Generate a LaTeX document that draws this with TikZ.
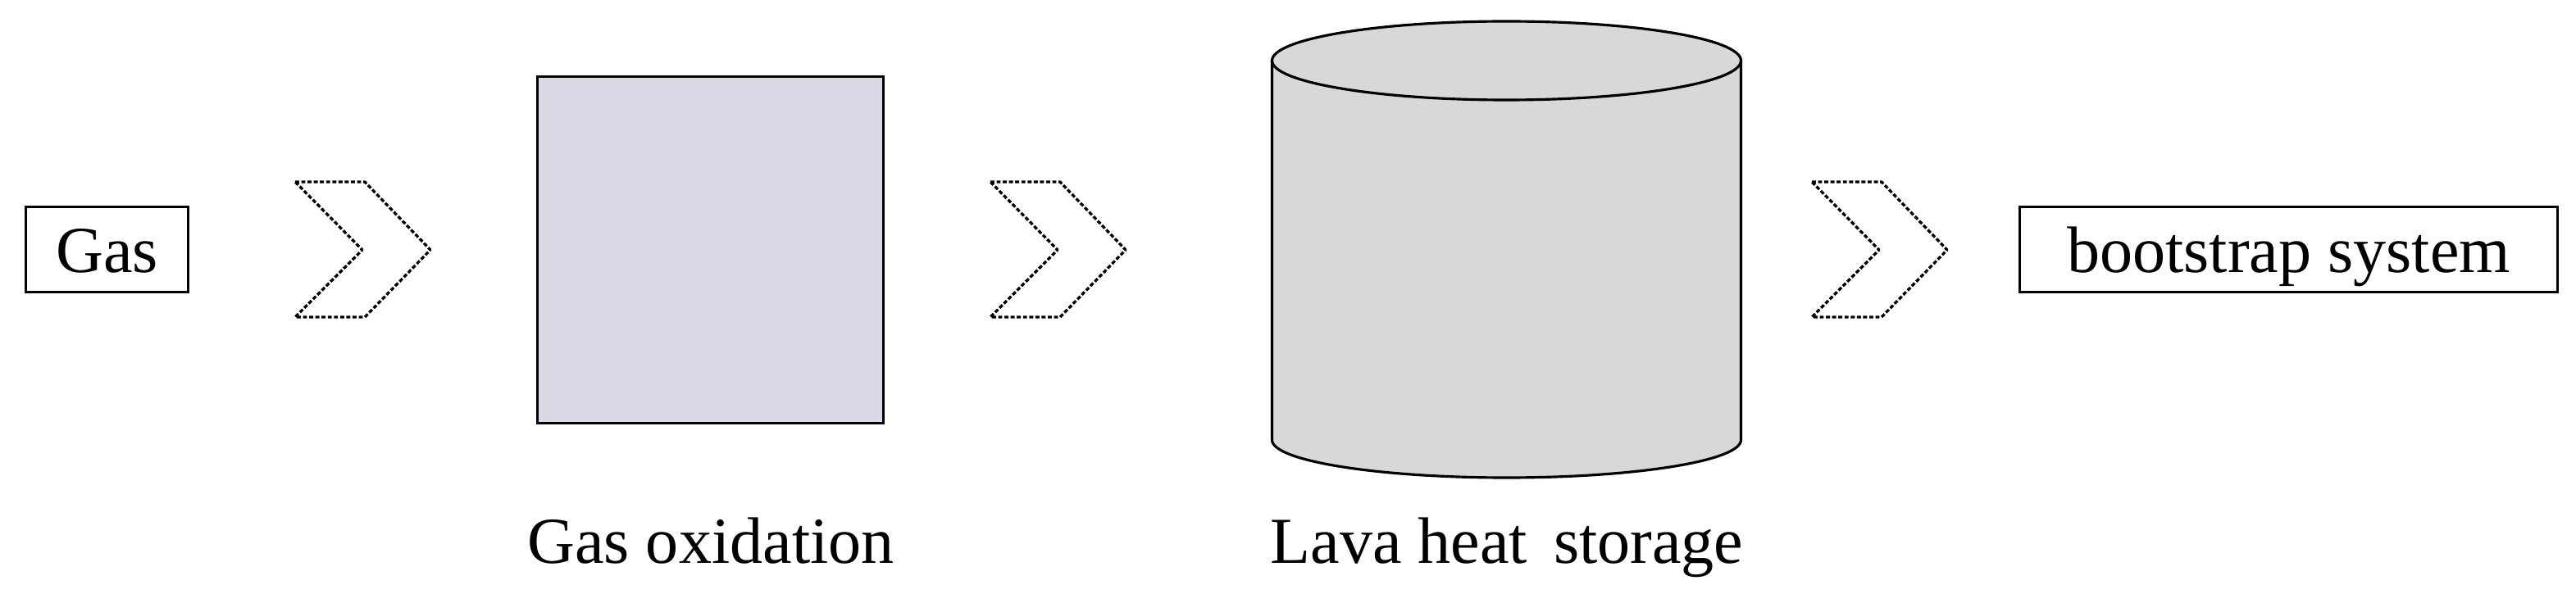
\documentclass[tikz,border=0pt]{standalone}
\usepackage{fontspec}
\setmainfont{Liberation Serif}
\definecolor{oxfill}{RGB}{220,215,229}
\definecolor{cylfill}{RGB}{216,216,216}
\tikzset{
  every node/.style={font=\fontsize{22.8}{27}\selectfont},
  labelbox/.style={draw, line width=0.9pt, inner sep=0pt, text height=0.57cm, text depth=0pt, minimum height=1.04cm},
  chev/.style={draw, line width=0.95pt, dash pattern=on 1.4pt off 0.75pt, line join=round},
  solidline/.style={draw, line width=0.9pt},
  caption/.style={anchor=base, inner sep=0pt}
}
\begin{document}
\begin{tikzpicture}
\useasboundingbox (0,0) rectangle (31.42,-7.25);
% input box
\node[labelbox, minimum width=1.98cm] (gas) at (1.305,-3.045) {Gas};
% chevrons
\foreach \L/\nm in {3.60/c1, 12.08/c2, 22.10/c3}{
  \draw[chev] (\L,-2.22) -- (\L+0.85,-2.22) -- (\L+1.65,-3.05) -- (\L+0.85,-3.87) -- (\L,-3.87) -- (\L+0.82,-3.05) -- cycle;
}
% gas oxidation box
\draw[solidline, fill=oxfill] (6.555,-0.935) rectangle (10.775,-5.165);
\node[caption] (oxlabel) at (8.67,-6.88) {Gas oxidation};
% cylinder
\path[solidline, fill=cylfill] (15.515,-0.74) -- (15.515,-5.37)
   arc[start angle=180, end angle=360, x radius=2.86cm, y radius=0.46cm]
   -- (21.235,-0.74)
   arc[start angle=0, end angle=180, x radius=2.86cm, y radius=0.48cm] -- cycle;
\draw[solidline] (15.515,-0.74) arc[start angle=180, end angle=360, x radius=2.86cm, y radius=0.48cm];
\node[caption] (lavalabel) at (18.38,-6.88) {Lava heat\hspace{0.15em} storage};
% output box
\node[labelbox, minimum width=6.56cm] (boot) at (27.915,-3.045) {bootstrap system};
\end{tikzpicture}
\end{document}
